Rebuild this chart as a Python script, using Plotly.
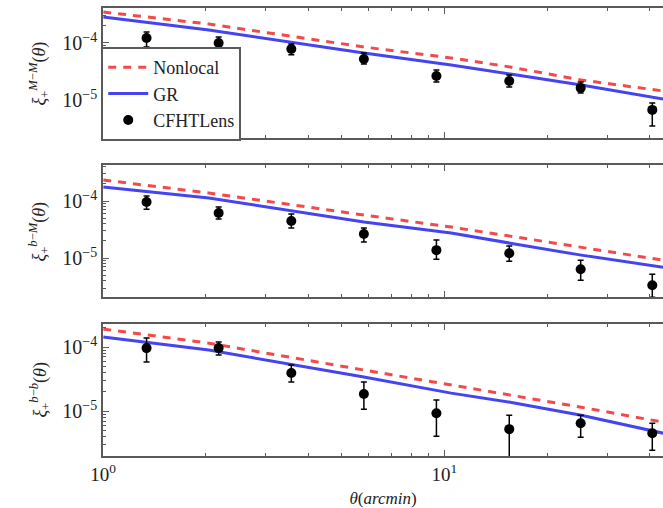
import plotly.graph_objects as go

# ---------------- data ----------------
theta_model = [1.0, 2.04, 5.81, 10.47, 15.6, 25.2, 43.8]
theta_data = [1.34, 2.18, 3.56, 5.81, 9.48, 15.5, 25.1, 40.7]

# panel 1 : M-M
nonlocal_mm = [3.50e-4, 2.15e-4, 8.5e-5, 5.46e-5, 3.79e-5, 2.24e-5, 1.44e-5]
gr_mm = [2.86e-4, 1.69e-4, 6.68e-5, 4.11e-5, 2.86e-5, 1.83e-5, 1.04e-5]
cfht_mm = [1.22e-4, 1.00e-4, 7.85e-5, 5.24e-5, 2.64e-5, 2.15e-5, 1.63e-5, 6.7e-6]
cfht_mm_up = [3.4e-5, 2.7e-5, 1.75e-5, 1.46e-5, 7.2e-6, 6.0e-6, 4.4e-6, 2.15e-6]
cfht_mm_dn = [3.7e-5, 1.8e-5, 1.65e-5, 9.4e-6, 5.7e-6, 4.6e-6, 3.0e-6, 3.2e-6]

# panel 2 : b-M
nonlocal_bm = [2.33e-4, 1.38e-4, 5.68e-5, 3.5e-5, 2.43e-5, 1.56e-5, 9.2e-6]
gr_bm = [1.76e-4, 1.13e-4, 4.29e-5, 2.75e-5, 1.83e-5, 1.13e-5, 6.95e-6]
cfht_bm = [9.6e-5, 6.17e-5, 4.46e-5, 2.64e-5, 1.38e-5, 1.22e-5, 6.4e-6, 3.36e-6]
cfht_bm_up = [2.65e-5, 1.68e-5, 1.44e-5, 7.2e-6, 6.9e-6, 4.1e-6, 2.8e-6, 1.88e-6]
cfht_bm_dn = [2.4e-5, 1.34e-5, 1.10e-5, 7.3e-6, 4.2e-6, 3.35e-6, 2.3e-6, 1.29e-6]

# panel 3 : b-b
nonlocal_bb = [1.91e-4, 1.15e-4, 4.38e-5, 2.55e-5, 1.78e-5, 1.15e-5, 6.73e-6]
gr_bb = [1.43e-4, 8.97e-5, 3.40e-5, 1.91e-5, 1.38e-5, 8.65e-6, 4.53e-6]
cfht_bb = [9.64e-5, 9.64e-5, 3.93e-5, 1.85e-5, 9.3e-6, 5.24e-6, 6.49e-6, 4.53e-6]
cfht_bb_up = [4.16e-5, 2.36e-5, 1.31e-5, 9.9e-6, 5.6e-6, 3.41e-6, 2.16e-6, 1.96e-6]
cfht_bb_dn = [3.81e-5, 2.14e-5, 1.09e-5, 7.8e-6, 5.24e-6, 4.9e-6, 2.56e-6, 2.07e-6]

y_titles = ["<i>ξ</i><sub>+</sub><sup><i>M</i>−<i>M</i></sup>(<i>θ</i>)",
            "<i>ξ</i><sub>+</sub><sup><i>b</i>−<i>M</i></sup>(<i>θ</i>)",
            "<i>ξ</i><sub>+</sub><sup><i>b</i>−<i>b</i></sup>(<i>θ</i>)"]
series_names = ["Nonlocal", "GR", "CFHTLens"]

x_tick_vals = [1, 10]
x_tick_text = ["10<sup>0</sup>", "10<sup>1</sup>"]
x_minor_vals = [2, 3, 4, 5, 6, 7, 8, 9, 20, 30, 40]
y_tick_vals = [1e-5, 1e-4]
y_tick_text = ["10<sup>−5</sup>", "10<sup>−4</sup>"]
y_minor_vals = [2e-6, 3e-6, 4e-6, 5e-6, 6e-6, 7e-6, 8e-6, 9e-6,
                2e-5, 3e-5, 4e-5, 5e-5, 6e-5, 7e-5, 8e-5, 9e-5,
                2e-4, 3e-4, 4e-4]

# ---------------- style ----------------
W, H = 663, 508
RED = "#f24a4a"
BLUE = "#4444f0"
FRAME = "#5a5a5a"
SERIF = "Liberation Serif, Times New Roman, serif"

panels = [
    (nonlocal_mm, gr_mm, cfht_mm, cfht_mm_up, cfht_mm_dn),
    (nonlocal_bm, gr_bm, cfht_bm, cfht_bm_up, cfht_bm_dn),
    (nonlocal_bb, gr_bb, cfht_bb, cfht_bb_up, cfht_bb_dn),
]
panel_px = [(8, 138), (165, 297), (324, 456)]
y_ranges = [[-5.667, -3.386], [-5.68, -3.37], [-5.70, -3.64]]
x_left_px = 92

fig = go.Figure()

for i, (nl, gr, d, up, dn) in enumerate(panels):
    k = "" if i == 0 else str(i + 1)
    xa, ya = "x" + k, "y" + k
    show = (i == 0)
    fig.add_trace(go.Scatter(x=theta_model, y=nl, mode="lines", name=series_names[0],
                             line=dict(color=RED, width=3, dash="8px,7px"),
                             xaxis=xa, yaxis=ya, showlegend=show, legendrank=1))
    fig.add_trace(go.Scatter(x=theta_model, y=gr, mode="lines", name=series_names[1],
                             line=dict(color=BLUE, width=3),
                             xaxis=xa, yaxis=ya, showlegend=show, legendrank=2))
    fig.add_trace(go.Scatter(x=theta_data, y=d, mode="markers", name=series_names[2],
                             marker=dict(color="black", size=10, symbol="circle"),
                             error_y=dict(type="data", symmetric=False, array=up,
                                          arrayminus=dn, color="black",
                                          thickness=1.5, width=3),
                             xaxis=xa, yaxis=ya, showlegend=show, legendrank=3))

    top, bot = panel_px[i]
    dom = [1 - bot / H, 1 - top / H]
    xaxis = dict(type="log", range=[0, 1.641], domain=[x_left_px / W, 1.0],
                 anchor=ya, showline=True, linecolor=FRAME, linewidth=2,
                 mirror="allticks", ticks="inside", ticklen=6, tickwidth=1,
                 tickcolor=FRAME, tickmode="array", tickvals=x_tick_vals,
                 ticktext=x_tick_text,
                 showticklabels=(i == 2), showgrid=False, zeroline=False,
                 tickfont=dict(family=SERIF, size=19, color="#222"),
                 minor=dict(ticks="inside", ticklen=3, tickcolor=FRAME,
                            tickmode="array", tickvals=x_minor_vals, showgrid=False))
    if i != 0:
        xaxis["matches"] = "x"
    if i == 2:
        xaxis["title"] = dict(text="<i>θ</i>(<i>arcmin</i>)", standoff=8,
                              font=dict(family=SERIF, size=17, color="#222"))
    yaxis = dict(type="log", range=y_ranges[i], domain=dom, anchor=xa,
                 showline=True, linecolor=FRAME, linewidth=2, mirror=False,
                 ticks="inside", ticklen=6, tickwidth=1, tickcolor=FRAME,
                 tickmode="array", tickvals=y_tick_vals, ticktext=y_tick_text,
                 showgrid=False, zeroline=False,
                 tickfont=dict(family=SERIF, size=20, color="#222"),
                 minor=dict(ticks="inside", ticklen=3, tickcolor=FRAME,
                            tickmode="array", tickvals=y_minor_vals, showgrid=False))
    fig.layout["xaxis" + k] = xaxis
    fig.layout["yaxis" + k] = yaxis

    fig.add_annotation(text=y_titles[i], xref="paper", yref="paper",
                       x=27 / W, y=(dom[0] + dom[1]) / 2, textangle=-90,
                       showarrow=False, xanchor="center", yanchor="middle",
                       font=dict(family=SERIF, size=18, color="#222"))

fig.update_layout(
    width=W, height=H, margin=dict(l=0, r=0, t=0, b=0),
    paper_bgcolor="white", plot_bgcolor="white",
    legend=dict(x=90 / W, y=1 - 47 / H, xanchor="left", yanchor="top",
                bordercolor=FRAME, borderwidth=2, bgcolor="white",
                font=dict(family=SERIF, size=18, color="#222"),
                tracegroupgap=0, itemwidth=40),
)

fig.write_html("out.html")
